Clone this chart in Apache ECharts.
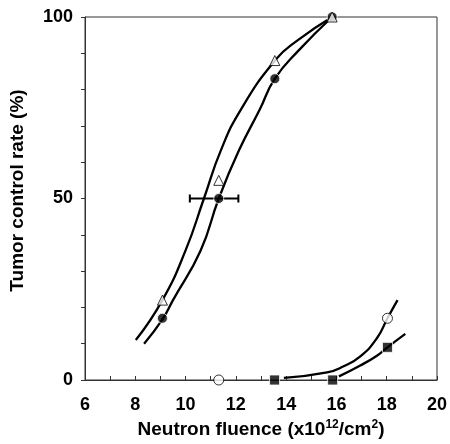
<!DOCTYPE html>
<html>
<head>
<meta charset="utf-8">
<style>
  html, body { margin: 0; padding: 0; background: #fff; }
  #chart { width: 450px; height: 444px; }
</style>
<script src="https://cdn.jsdelivr.net/npm/echarts@6/dist/echarts.min.js"></script>
</head>
<body>
<div id="chart"></div>
<script>
// measured points
var triX = [9.08, 11.32, 13.55, 15.83]
var triY = [22, 55, 88, 100]
var dotX = [9.08, 11.32, 13.55, 15.83]
var dotY = [17, 50, 83, 100]
var ringX = [11.32, 18.03]
var ringY = [0, 17]
var sqX = [13.54, 15.85, 18.03]
var sqY = [0, 0, 9]
// horizontal error bar on the 50% point
var errY = [50]
var errLow = [10.17]
var errHigh = [12.1]

// fitted curves
var triCurveX = [8.02, 9.08, 10.0, 10.73, 11.4, 12.2, 13.58, 14.44, 15.83]
var triCurveY = [11, 22, 35.7, 50, 63.2, 74.5, 88.2, 93.5, 100]
var dotCurveX = [8.35, 9.08, 9.5, 10.6, 11.32, 12.12, 12.95, 13.55, 14.5, 15.83]
var dotCurveY = [10, 16.7, 22, 35.7, 50, 63.2, 74.5, 83, 90.8, 100]
var ringCurveX = [13.91, 15.63, 16.29, 16.95, 17.61, 18.03, 18.43]
var ringCurveY = [0.6, 2.1, 3.8, 6.5, 11.5, 17, 22]
var sqCurveX = [16.1, 16.95, 17.61, 18.03, 18.74]
var sqCurveY = [1, 4, 6.7, 9, 12.7]

var xTicks = [6, 8, 10, 12, 14, 16, 18, 20]
var yTicks = [0, 50, 100]

function pairs(xs, ys) {
  let out = []
  for (let i = 0; i < xs.length; i++) out.push([xs[i], ys[i]])
  return out
}

function curve(xs, ys) {
  return {
    type: 'line',
    data: pairs(xs, ys),
    showSymbol: false,
    smooth: 0.5,
    silent: true,
    z: 2,
    lineStyle: { color: '#000', width: 2.3 },
  }
}

let myChart = echarts.init(document.getElementById('chart'))
let font = 'Liberation Sans, Arial, sans-serif'

myChart.setOption({
  animation: false,
  backgroundColor: '#fff',
  grid: {
    left: 84,
    right: 13,
    top: 17,
    bottom: 64,
    show: true,
    borderColor: '#333',
    borderWidth: 1,
  },
  xAxis: {
    type: 'value',
    min: xTicks[0],
    max: xTicks[xTicks.length - 1],
    interval: 2,
    name: 'Neutron fluence (x10{sup|12}/cm{sup|2})',
    nameLocation: 'middle',
    nameGap: 36,
    nameTextStyle: {
      fontFamily: font, fontWeight: 'bold', fontSize: 19, color: '#000',
      rich: {
        sup: { fontFamily: font, fontWeight: 'bold', fontSize: 12, color: '#000', padding: [0, 0, 9, 0] },
      },
    },
    axisLine: { lineStyle: { color: '#333', width: 1 } },
    axisTick: { inside: true, length: 4, lineStyle: { color: '#333' } },
    minorTick: { show: true, splitNumber: 2, length: 4, lineStyle: { color: '#333' } },
    splitLine: { show: false },
    axisLabel: { fontFamily: font, fontWeight: 'bold', fontSize: 18, color: '#000', margin: 16 },
  },
  yAxis: {
    type: 'value',
    min: yTicks[0],
    max: yTicks[yTicks.length - 1],
    interval: 50,
    name: 'Tumor control rate (%)',
    nameLocation: 'middle',
    nameGap: 58,
    nameTextStyle: { fontFamily: font, fontWeight: 'bold', fontSize: 19, color: '#000', padding: [0, 0, 0, 16] },
    axisLine: { lineStyle: { color: '#333', width: 1 } },
    axisTick: { inside: false, length: 4, lineStyle: { color: '#333' } },
    minorTick: { show: true, splitNumber: 5, length: 4, lineStyle: { color: '#333' } },
    splitLine: { show: false },
    axisLabel: { fontFamily: font, fontWeight: 'bold', fontSize: 18, color: '#000', margin: 12 },
  },
  series: [
    curve(triCurveX, triCurveY),
    curve(dotCurveX, dotCurveY),
    curve(ringCurveX, ringCurveY),
    curve(sqCurveX, sqCurveY),
    {
      type: 'custom',
      data: errY.map((y, i) => [errLow[i], errHigh[i], y]),
      z: 3,
      renderItem: function (params, api) {
        let a = api.coord([api.value(0), api.value(2)])
        let b = api.coord([api.value(1), api.value(2)])
        let h = 4
        let st = { stroke: '#000', lineWidth: 2 }
        return {
          type: 'group',
          children: [
            { type: 'line', shape: { x1: a[0], y1: a[1], x2: b[0], y2: b[1] }, style: st },
            { type: 'line', shape: { x1: a[0], y1: a[1] - h, x2: a[0], y2: a[1] + h }, style: st },
            { type: 'line', shape: { x1: b[0], y1: b[1] - h, x2: b[0], y2: b[1] + h }, style: st },
          ],
        }
      },
    },
    {
      type: 'scatter',
      data: pairs(dotX, dotY),
      symbol: 'circle',
      symbolSize: 10,
      z: 4,
      itemStyle: { color: '#000', borderColor: '#fff', borderWidth: 1 },
    },
    {
      type: 'scatter',
      data: pairs(triX, triY),
      symbol: 'triangle',
      symbolSize: 10,
      z: 5,
      itemStyle: { color: '#fff', borderColor: '#000', borderWidth: 1 },
    },
    {
      type: 'scatter',
      data: pairs(ringX, ringY),
      symbol: 'circle',
      symbolSize: 10,
      z: 5,
      itemStyle: { color: '#fff', borderColor: '#000', borderWidth: 1 },
    },
    {
      type: 'scatter',
      data: pairs(sqX, sqY),
      symbol: 'rect',
      symbolSize: 10,
      z: 5,
      itemStyle: { color: '#000', borderColor: '#fff', borderWidth: 1 },
    },
  ],
})
</script>
</body>
</html>
